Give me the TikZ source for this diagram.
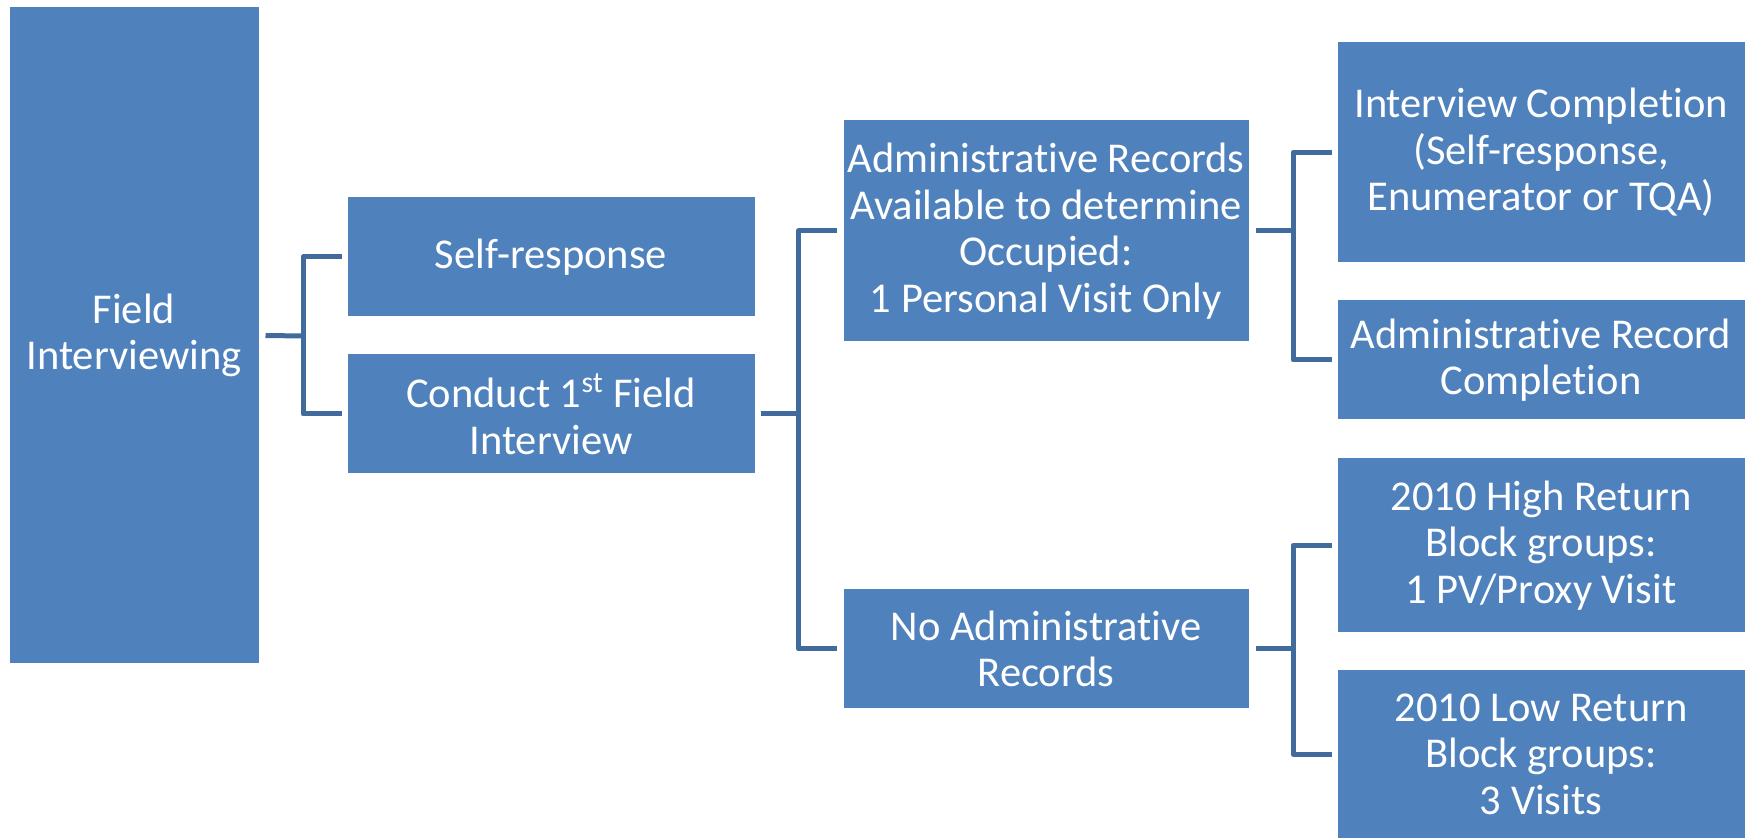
\documentclass[tikz,border=0pt]{standalone}
\usepackage{fontspec}
\setmainfont[Ligatures={NoCommon,NoContextual}]{Carlito}
\definecolor{boxblue}{HTML}{4F81BD}
\definecolor{linkblue}{HTML}{416A9D}
\begin{document}
\begin{tikzpicture}[x=0.5pt,y=-0.5pt,
  box/.style={fill=boxblue, draw=white, line width=0.5pt, text=white,
    inner sep=0pt, align=center,
    font=\fontsize{21.25}{23.3}\selectfont},
  conn/.style={draw=linkblue, line width=2.5pt, line join=round}]
\useasboundingbox (0,0) rectangle (1750,838);

% boxes
\node[box, minimum width=125pt, minimum height=328.5pt] (field) at (134,335.5) {Field\\Interviewing};
\node[box, minimum width=204pt, minimum height=60pt] (self) at (551,257) {Self-response};
\node[box, minimum width=204pt, minimum height=60pt] (conduct) at (551,414) {Conduct 1\textsuperscript{st} Field\\Interview};
\node[box, minimum width=203pt, minimum height=111pt] (admin) at (1046,231) {Administrative Records\\Available to determine\\Occupied:\\1 Personal Visit Only};
\node[box, minimum width=203pt, minimum height=60pt] (noadmin) at (1046,649) {No Administrative\\Records};
\node[box, minimum width=204pt, minimum height=110.5pt] (intcomp) at (1541,152.5) {Interview Completion\\(Self-response,\\Enumerator or TQA)};
\node[box, minimum width=204pt, minimum height=60pt] (admrec) at (1541,360) {Administrative Record\\Completion};
\node[box, minimum width=204pt, minimum height=87.5pt] (high) at (1541,545.5) {2010 High Return\\Block groups:\\1 PV/Proxy Visit};
\node[box, minimum width=204pt, minimum height=84pt] (low) at (1541,754) {2010 Low Return\\Block groups:\\3 Visits};

% branch points
\coordinate (f1) at (303,336);
\coordinate (f2) at (798.5,414);
\coordinate (f3) at (1293,231);
\coordinate (f4) at (1293,649);

% connectors
\draw[conn] ([xshift=3pt]field.east) -- (f1);
\draw[conn] ([xshift=-2.5pt]self.west) -| (f1) |- ([xshift=-2.5pt]conduct.west);

\draw[conn] ([xshift=2.5pt]conduct.east) -- (f2);
\draw[conn] ([xshift=-3pt]admin.west) -| (f2) |- ([xshift=-3pt]noadmin.west);

\draw[conn] ([xshift=3pt]admin.east) -- (f3);
\draw[conn] ([xshift=-2.5pt]intcomp.west) -| (f3) |- ([xshift=-2.5pt]admrec.west);

\draw[conn] ([xshift=3pt]noadmin.east) -- (f4);
\draw[conn] ([xshift=-2.5pt]high.west) -| (f4) |- ([xshift=-2.5pt]low.west);
\end{tikzpicture}
\end{document}
